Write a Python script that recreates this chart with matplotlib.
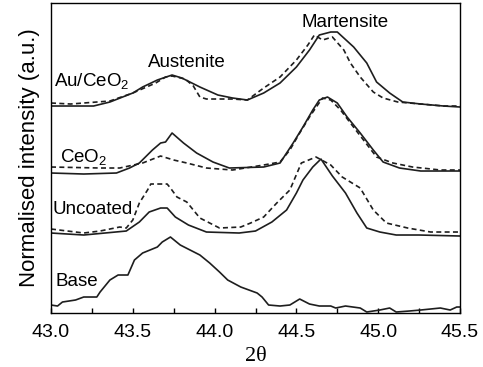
import matplotlib
matplotlib.use("Agg")
import matplotlib.pyplot as plt
from matplotlib.ticker import MultipleLocator

plt.rcParams["font.family"] = ["Liberation Sans", "DejaVu Sans"]
plt.rcParams["mathtext.fontset"] = "custom"
plt.rcParams["mathtext.rm"] = "Liberation Sans"
plt.rcParams["mathtext.it"] = "Liberation Sans:italic"

# XRD scans, stacked with offsets (a.u.)
tt_au = [43.00, 43.26, 43.36, 43.50, 43.56, 43.65, 43.74, 43.80, 43.91, 44.02,
         44.11, 44.20, 44.30, 44.40, 44.50, 44.58, 44.64, 44.71, 44.75, 44.85,
         44.93, 44.99, 45.07, 45.15, 45.26, 45.40, 45.50]
au_solid = [207, 207, 211, 220, 226, 233, 238, 235, 226, 218,
            215, 213, 220, 230, 246, 263, 278, 281, 281, 266,
            250, 231, 220, 211, 209, 207, 206]

tt_au_d = [43.00, 43.12, 43.36, 43.50, 43.64, 43.70, 43.74, 43.82, 43.87, 43.91,
           43.95, 44.11, 44.20, 44.30, 44.40, 44.50, 44.57, 44.61, 44.66, 44.72,
           44.79, 44.83, 44.89, 44.97, 45.03, 45.12, 45.26, 45.40, 45.50]
au_dash = [210, 209, 212, 220, 230, 236, 237, 234, 227, 216,
           214, 214, 213, 225, 236, 253, 268, 278, 273, 276,
           263, 250, 236, 221, 215, 211, 209, 207, 207]

tt_ce = [43.00, 43.20, 43.40, 43.48, 43.54, 43.62, 43.67, 43.70, 43.74, 43.81,
         43.89, 43.99, 44.09, 44.30, 44.40, 44.48, 44.54, 44.60, 44.64, 44.69,
         44.75, 44.81, 44.89, 44.97, 45.03, 45.13, 45.26, 45.50]
ce_solid = [140, 139, 140, 145, 150, 163, 170, 171, 180, 170,
            160, 151, 145, 146, 150, 170, 186, 203, 213, 216,
            210, 196, 180, 163, 151, 145, 142, 142]

tt_ce_d = [43.00, 43.30, 43.42, 43.56, 43.67, 43.75, 43.83, 43.95, 44.11, 44.30,
           44.40, 44.46, 44.52, 44.58, 44.63, 44.66, 44.71, 44.77, 44.83, 44.91,
           44.99, 45.09, 45.21, 45.38, 45.50]
ce_dash = [146, 145, 145, 150, 157, 153, 150, 145, 143, 148,
           151, 163, 180, 196, 208, 215, 213, 203, 190, 173,
           156, 150, 146, 143, 143]

tt_un = [43.00, 43.20, 43.46, 43.54, 43.60, 43.67, 43.71, 43.76, 43.84, 43.95,
         44.15, 44.25, 44.35, 44.44, 44.50, 44.54, 44.60, 44.65, 44.72, 44.80,
         44.87, 44.93, 45.01, 45.11, 45.25, 45.50]
un_solid = [80, 78, 82, 91, 101, 105, 105, 96, 88, 81,
            80, 82, 91, 103, 120, 133, 146, 154, 137, 120,
            100, 85, 81, 78, 78, 77]

tt_un_d = [43.00, 43.20, 43.30, 43.42, 43.46, 43.50, 43.54, 43.59, 43.61, 43.71,
           43.73, 43.77, 43.83, 43.87, 43.91, 43.97, 44.03, 44.16, 44.22, 44.30,
           44.38, 44.46, 44.53, 44.62, 44.71, 44.78, 44.89, 44.97, 45.05, 45.18,
           45.32, 45.50]
un_dash = [84, 80, 82, 86, 85, 93, 110, 123, 129, 129,
           125, 116, 111, 103, 95, 90, 85, 86, 90, 96,
           110, 123, 150, 156, 148, 136, 125, 103, 90, 85,
           81, 81]

tt_base = [43.00, 43.04, 43.07, 43.15, 43.20, 43.28, 43.30, 43.36, 43.41, 43.47,
           43.51, 43.56, 43.65, 43.68, 43.73, 43.79, 43.85, 43.91, 43.97, 44.03,
           44.08, 44.16, 44.26, 44.29, 44.33, 44.40, 44.46, 44.52, 44.58, 44.64,
           44.71, 44.74, 44.80, 44.89, 44.93, 45.01, 45.07, 45.11, 45.19, 45.26,
           45.38, 45.44, 45.48, 45.50]
base = [8, 7, 11, 13, 16, 16, 21, 33, 38, 38,
        53, 60, 66, 71, 76, 68, 63, 58, 50, 41,
        33, 26, 20, 16, 8, 7, 8, 14, 9, 7,
        7, 5, 7, 5, 1, 3, 5, 1, 2, 3,
        5, 3, 6, 6]

fig = plt.figure(figsize=(4.83, 3.67), dpi=100)
ax = fig.add_axes([0.1056, 0.1471, 0.8468, 0.8447])

ink = "#1e1e1e"
dash = (0, (3, 2))
ax.plot(tt_au, au_solid, color=ink, lw=1.2)
ax.plot(tt_au_d, au_dash, color=ink, lw=1.2, linestyle=dash)
ax.plot(tt_ce, ce_solid, color=ink, lw=1.2)
ax.plot(tt_ce_d, ce_dash, color=ink, lw=1.2, linestyle=dash)
ax.plot(tt_un, un_solid, color=ink, lw=1.2)
ax.plot(tt_un_d, un_dash, color=ink, lw=1.2, linestyle=dash)
ax.plot(tt_base, base, color=ink, lw=1.2)

fs = 13.5
ax.text(44.80, 286, "Martensite", ha="center", va="baseline", fontsize=fs)
ax.text(43.83, 246, "Austenite", ha="center", va="baseline", fontsize=fs)
ax.text(43.02, 227, "Au/CeO$_2$", ha="left", va="baseline", fontsize=fs)
ax.text(43.055, 151, "CeO$_2$", ha="left", va="baseline", fontsize=fs)
ax.text(43.01, 99, "Uncoated", ha="left", va="baseline", fontsize=fs)
ax.text(43.03, 27, "Base", ha="left", va="baseline", fontsize=fs)

ax.set_xlim(43.0, 45.5)
ax.set_ylim(0, 310)
ax.xaxis.set_major_locator(MultipleLocator(0.5))
ax.xaxis.set_minor_locator(MultipleLocator(0.25))
ax.xaxis.set_major_formatter(matplotlib.ticker.FormatStrFormatter("%.1f"))
ax.tick_params(axis="x", which="both", direction="in", length=3.5, width=1,
               labelsize=14, pad=8)
ax.set_yticks([])
for s in ax.spines.values():
    s.set_linewidth(1.0)

ax.set_xlabel("2θ", fontsize=16, family=["Liberation Serif"], labelpad=4)
ax.set_ylabel("Normalised intensity (a.u.)", fontsize=16, labelpad=8)

fig.savefig("out.png", dpi=100)
